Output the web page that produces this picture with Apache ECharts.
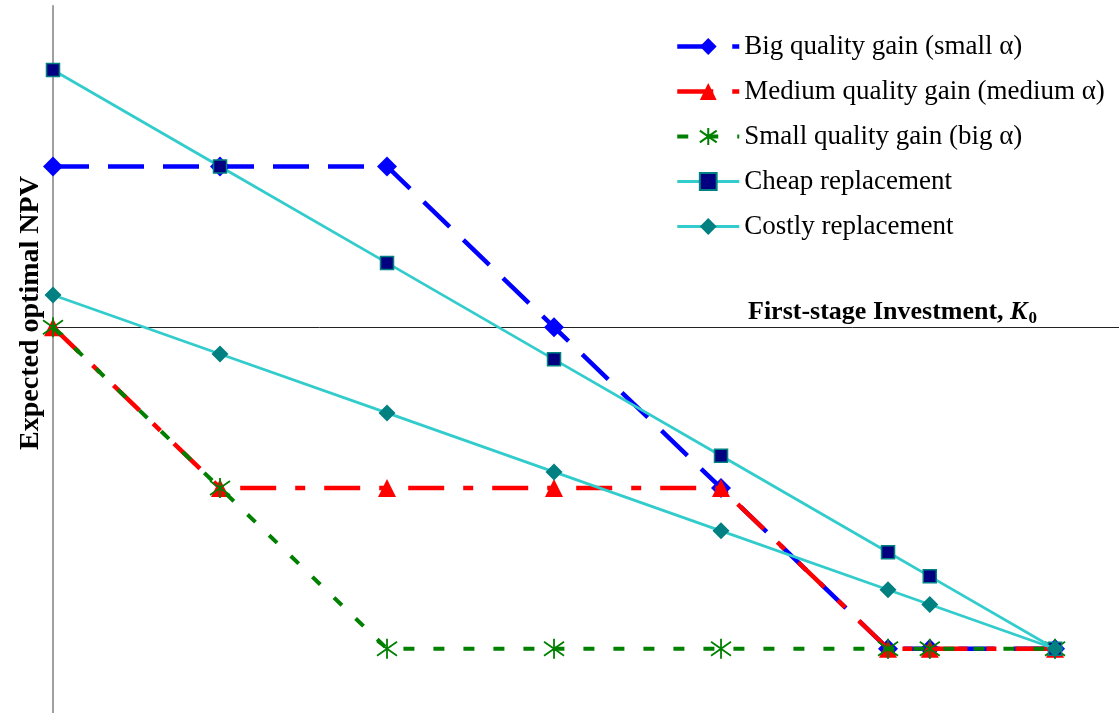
<!DOCTYPE html>
<html>
<head>
<meta charset="utf-8">
<script src="https://cdn.jsdelivr.net/npm/echarts@6/dist/echarts.min.js"></script>
<style>
html,body{margin:0;padding:0;background:#fff;}
#chart{width:1119px;height:713px;}
</style>
</head>
<body>
<div id="chart"></div>
<script>
// Data (first-stage investment K0 positions, expected optimal NPV)
const xValues = [0, 1, 2, 3, 4, 5, 5.25, 6];
const bigGain = [1, 1, 1, 0, -1, -2, -2, -2];
const mediumGain = [0, -1, -1, -1, -1, -2, -2, -2];
const smallGain = [0, -1, -2, -2, -2, -2, -2, -2];
const cheapRepl = [1.6, 1.0, 0.4, -0.2, -0.8, -1.4, -1.55, -2];
const costlyRepl = [0.2, -0.167, -0.533, -0.9, -1.267, -1.633, -1.725, -2];
const seriesNames = [
  'Big quality gain (small \u03b1)',
  'Medium quality gain (medium \u03b1)',
  'Small quality gain (big \u03b1)',
  'Cheap replacement',
  'Costly replacement'
];
const legendWidths = [4.5, 4.5, 4, 3, 3];

function pairs(ys) { return xValues.map((x, i) => [x, ys[i]]); }

const font = '"Liberation Serif", "Times New Roman", serif';
const asterisk = 'path://M10,0L10,20M1,3L19,17M1,17L19,3';

const chart = echarts.init(document.getElementById('chart'), null, {renderer: 'canvas'});
chart.setOption({
  animation: false,
  backgroundColor: '#ffffff',
  grid: {left: 53, right: 0, top: 5.7, bottom: 0, containLabel: false},
  xAxis: {
    type: 'value', min: 0, max: 6.383,
    axisLine: {show: true, onZero: true, lineStyle: {color: '#222', width: 1}},
    axisTick: {show: false}, axisLabel: {show: false}, splitLine: {show: false}
  },
  yAxis: {
    type: 'value', min: -2.4, max: 2,
    axisLine: {show: true, lineStyle: {color: '#808080', width: 1.5}},
    axisTick: {show: false}, axisLabel: {show: false}, splitLine: {show: false}
  },
  legend: {
    orient: 'vertical', left: 675, top: 33, padding: 0,
    itemWidth: 62, itemHeight: 21, itemGap: 18, itemTextGap: 7,
    textStyle: {fontFamily: font, fontSize: 27, color: '#000'},
    data: seriesNames.map((n, i) => ({name: n, lineStyle: {width: legendWidths[i]}}))
  },
  title: {
    text: '{b|First-stage Investment, }{k|K}{s|0}',
    left: 748, top: 298, padding: 0,
    textStyle: {
      rich: {
        b: {fontFamily: font, fontSize: 26, fontWeight: 'bold', color: '#000'},
        k: {fontFamily: font, fontSize: 26, fontWeight: 'bold', fontStyle: 'italic', color: '#000'},
        s: {fontFamily: font, fontSize: 17, fontWeight: 'bold', color: '#000', padding: [12, 0, 0, 1]}
      }
    }
  },
  graphic: [{
    type: 'text', x: 31, y: 313, rotation: Math.PI / 2,
    style: {
      text: 'Expected optimal NPV', fontFamily: font, fontSize: 28, fontWeight: 'bold',
      fill: '#000', align: 'center', verticalAlign: 'middle'
    }
  }],
  series: [
    {
      name: seriesNames[0], type: 'line', data: pairs(bigGain),
      symbol: 'diamond', symbolSize: 20,
      lineStyle: {color: '#0000ff', width: 4.5, type: [36, 19]},
      itemStyle: {color: '#0000ff'}, z: 2
    },
    {
      name: seriesNames[1], type: 'line', data: pairs(mediumGain),
      symbol: 'triangle', symbolSize: 18,
      lineStyle: {color: '#ff0000', width: 4.5, type: [36, 19, 10, 19]},
      itemStyle: {color: '#ff0000'}, z: 3
    },
    {
      name: seriesNames[2], type: 'line', data: pairs(smallGain),
      symbol: asterisk, symbolSize: 20,
      lineStyle: {color: '#008000', width: 4, type: [11, 19]},
      itemStyle: {color: 'rgba(0,0,0,0)', borderColor: '#008000', borderWidth: 1.8}, z: 4
    },
    {
      name: seriesNames[3], type: 'line', data: pairs(cheapRepl),
      symbol: 'rect', symbolSize: 13,
      lineStyle: {color: '#33cccc', width: 2.8},
      itemStyle: {color: '#000080', borderColor: '#008080', borderWidth: 1.5}, z: 5
    },
    {
      name: seriesNames[4], type: 'line', data: pairs(costlyRepl),
      symbol: 'diamond', symbolSize: 17,
      lineStyle: {color: '#33cccc', width: 2.8},
      itemStyle: {color: '#008080'}, z: 6
    }
  ]
});
</script>
</body>
</html>
